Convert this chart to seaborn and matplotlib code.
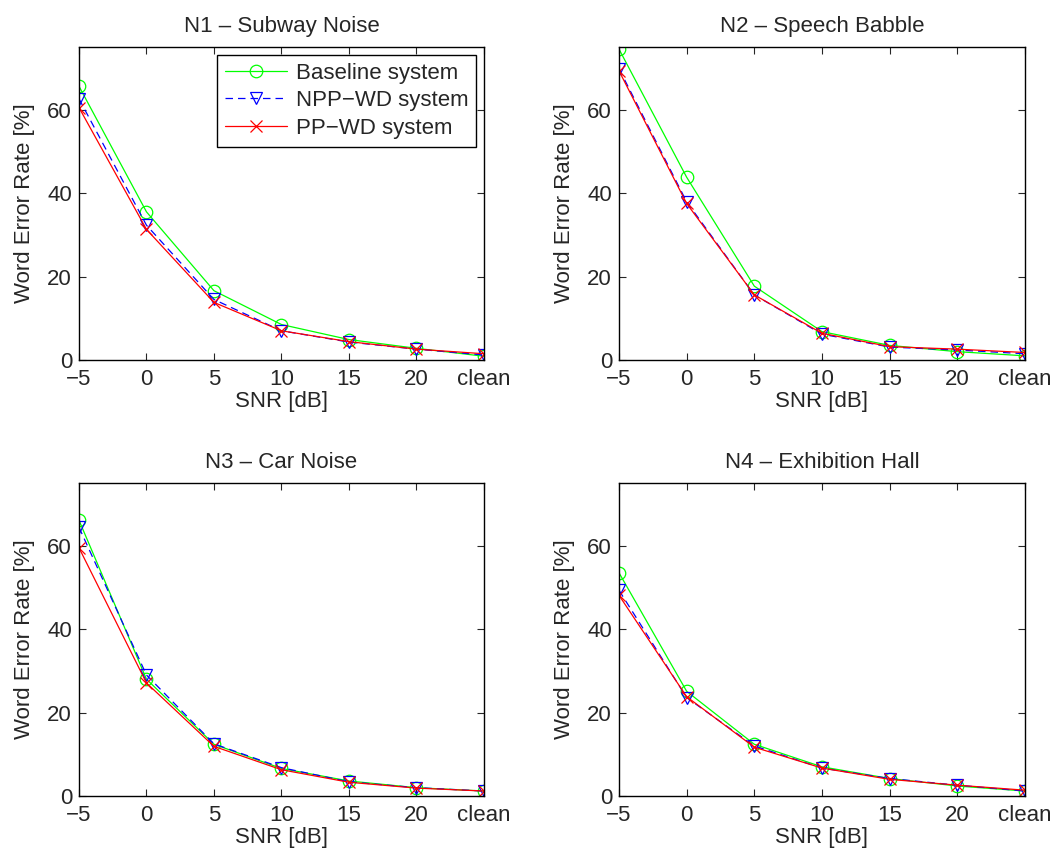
import matplotlib
matplotlib.use("Agg")
import matplotlib.pyplot as plt
import seaborn as sns
import pandas as pd

snr_labels = ["\u22125", "0", "5", "10", "15", "20", "clean"]
panel_titles = ["N1 \u2013 Subway Noise", "N2 \u2013 Speech Babble",
                "N3 \u2013 Car Noise", "N4 \u2013 Exhibition Hall"]
system_names = ["Baseline system", "NPP\u2212WD system", "PP\u2212WD system"]

n1_baseline = [65.6, 35.5, 16.6, 8.5, 4.9, 2.8, 0.9]
n1_npp = [62.6, 32.3, 14.5, 7.0, 4.3, 2.6, 1.2]
n1_pp = [60.5, 31.3, 13.8, 7.0, 4.4, 2.6, 1.5]

n2_baseline = [74.5, 43.8, 17.7, 6.8, 3.5, 2.0, 1.0]
n2_npp = [69.8, 37.9, 15.6, 6.2, 3.1, 2.4, 1.5]
n2_pp = [69.3, 37.5, 15.6, 6.4, 3.2, 2.6, 1.8]

n3_baseline = [66.1, 28.0, 12.4, 6.6, 3.6, 2.0, 1.2]
n3_npp = [64.4, 29.0, 12.5, 6.8, 3.4, 2.0, 1.2]
n3_pp = [59.5, 27.1, 11.9, 6.3, 3.3, 1.9, 1.2]

n4_baseline = [53.5, 25.1, 12.4, 7.0, 4.2, 2.4, 1.2]
n4_npp = [49.3, 23.6, 12.0, 6.7, 4.2, 2.6, 1.2]
n4_pp = [48.1, 23.8, 11.7, 6.7, 4.0, 2.6, 1.4]

panels = [
    (n1_baseline, n1_npp, n1_pp),
    (n2_baseline, n2_npp, n2_pp),
    (n3_baseline, n3_npp, n3_pp),
    (n4_baseline, n4_npp, n4_pp),
]

sns.set_style("ticks")
plt.rcParams["font.family"] = ["Liberation Sans", "DejaVu Sans"]
plt.rcParams["font.size"] = 16
plt.rcParams["xtick.direction"] = "in"
plt.rcParams["ytick.direction"] = "in"
plt.rcParams["xtick.top"] = True
plt.rcParams["ytick.right"] = True

styles = [
    dict(color=(0, 1, 0), marker="o", linestyle="-"),
    dict(color=(0, 0, 1), marker="v", linestyle=(0, (6, 4))),
    dict(color=(1, 0, 0), marker="x", linestyle="-"),
]

fig = plt.figure(figsize=(10.57, 8.59), dpi=100)
positions = [
    [0.0747, 0.5809, 0.3832, 0.3644],
    [0.5856, 0.5809, 0.3841, 0.3644],
    [0.0747, 0.0733, 0.3832, 0.3644],
    [0.5856, 0.0733, 0.3841, 0.3644],
]

for i, (pos, title, series) in enumerate(zip(positions, panel_titles, panels)):
    ax = fig.add_axes(pos)
    for name, vals, st in zip(system_names, series, styles):
        df = pd.DataFrame({"snr": snr_labels, "wer": vals})
        mfc = "none" if st["marker"] != "x" else st["color"]
        sns.lineplot(data=df, x="snr", y="wer", ax=ax, sort=False,
                     color=st["color"], marker=st["marker"],
                     linestyle=st["linestyle"], linewidth=0.9,
                     markersize=9, markerfacecolor=mfc,
                     markeredgecolor=st["color"], markeredgewidth=0.9,
                     label=name, legend=False)
    ax.set_xlim(0, len(snr_labels) - 1)
    ax.set_ylim(0, 75)
    ax.set_yticks([0, 20, 40, 60])
    ax.set_title(title, fontsize=16, pad=11)
    ax.set_xlabel("SNR [dB]", fontsize=16, labelpad=1)
    ax.set_ylabel("Word Error Rate [%]", fontsize=16, labelpad=9)
    ax.tick_params(axis="x", labelsize=16, length=5, width=0.8, pad=6.5)
    ax.tick_params(axis="y", labelsize=16, length=5, width=0.8, pad=5)
    for sp in ax.spines.values():
        sp.set_linewidth(1.0)
        sp.set_color("black")
    if i == 0:
        leg = ax.legend(loc="upper right", fontsize=16, frameon=True,
                        fancybox=False, edgecolor="black", framealpha=1,
                        handlelength=2.8, borderpad=0.35, labelspacing=0.3,
                        handletextpad=0.4, borderaxespad=0.35)
        leg.get_frame().set_linewidth(1.0)

fig.savefig("out.png", dpi=100)
